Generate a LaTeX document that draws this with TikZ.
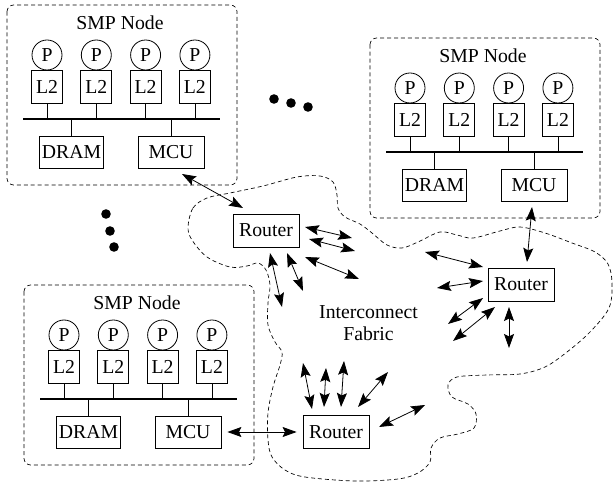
\documentclass[tikz,border=0pt]{standalone}
\usepackage{fontspec}
\setmainfont{Liberation Serif}
\usetikzlibrary{arrows.meta}

\tikzset{
  thinline/.style={line width=0.6pt},
  boxnode/.style={draw,line width=0.6pt,inner sep=0pt,minimum height=24pt},
  proc/.style={draw,circle,line width=0.6pt,inner sep=0pt,minimum size=22.5pt},
  cache/.style={boxnode,minimum width=23.25pt,minimum height=24.75pt},
  mem/.style={boxnode,minimum width=48pt},
  ctrl/.style={boxnode,minimum width=49.5pt},
  router/.style={boxnode,minimum width=49.5pt,minimum height=24.75pt},
  outline/.style={line width=0.5pt,dash pattern=on 3pt off 2.2pt},
  tip/.tip={Stealth[length=10.5pt,width=7.5pt,inset=1.8pt]},
  link/.style={line width=0.6pt,tip-tip},
  bus/.style={line width=1.4pt},
  % one shared-memory node: four processors with L2 caches on a bus
  smp/.pic={
    \draw[outline,rounded corners=5pt] (-40,-65) rectangle (190,115);
    \node (-title) at (73,-47) {SMP Node};
    \foreach \i in {0,1,2,3} {
      \node[proc] (-p\i) at ({\i*49.3},-15) {P};
      \node[cache,anchor=north] (-c\i) at ({\i*49.3},0) {L2};
      \draw[thinline] (-c\i.south) -- ({\i*49.3},49);
    }
    \draw[bus] (-24,49) -- (173,49);
    \node[mem] (-dram) at (24.5,82) {DRAM};
    \node[ctrl] (-mcu) at (124,82) {MCU};
    \draw[thinline] (24.5,49) -- (-dram.north);
    \draw[thinline] (124,49) -- (-mcu.north);
  }
}

\begin{document}
\begin{tikzpicture}[x=0.75pt,y=-0.75pt,font=\fontsize{14.8}{16.5}\selectfont]
\useasboundingbox (0,0) rectangle (613,484);

% interconnect fabric outline
\draw[outline] plot[smooth cycle,tension=0.55] coordinates {
  (188,227) (193,208) (207,198) (230,193) (263,186) (297,177) (320,176)
  (333,182) (337,195) (338,208) (345,217) (360,224) (372,233) (387,245)
  (402,248) (418,242) (440,232) (457,235) (473,238) (500,231) (520,227)
  (545,233) (572,243) (595,252) (608,264) (612,283) (609,308) (590,332)
  (567,352) (545,367) (520,374) (487,375) (457,377) (448,385) (452,397)
  (468,404) (476,414) (474,428) (458,434) (440,438) (431,448) (430,462)
  (418,473) (398,479) (355,481) (305,477) (285,470) (272,457) (268,440)
  (268,413) (273,387) (280,365) (282,352) (275,342) (268,325) (268,303)
  (270,285) (266,270) (258,263) (247,266) (230,267) (207,257) (192,240)};

\pic (tl) at (47,70) {smp};
\pic (tr) at (410,103) {smp};
\pic (bl) at (64,350) {smp};

\node[router] (r1) at (266,230.5) {Router};
\node[router] (r2) at (521,284.5) {Router};
\node[router] (r3) at (336,432) {Router};

\node[align=center] (fabric) at (368.5,323) {Interconnect\\Fabric};

% continuation dots
\foreach \x/\y [count=\k] in {274/99,291/103,308/107,106/214,110/231,114/247}
  \fill (\x,\y) circle (3.6pt);

% links between memory controllers, routers and the fabric
\foreach \ax/\ay/\bx/\by [count=\n] in {
  182/174/243/208,
  305/227/352/238, 309/239/355/251, 305/257/359/279, 270/253/282/307, 287/253/303/291,
  532/207/527/262,
  425/252/483/267, 437/288/483/281, 483/298/448/324, 495/307/453/341, 509/307/509/348,
  303/363/312/409, 326/368/324/407, 344/361/341/407, 388/372/358/407, 379/427/425/405} {
  \coordinate (l\n a) at (\ax,\ay);
  \coordinate (l\n b) at (\bx,\by);
  \draw[link] (l\n a) -- (l\n b);
}
\draw[link,shorten <=4.5pt,shorten >=4.5pt] (bl-mcu) -- (r3);
\end{tikzpicture}
\end{document}
